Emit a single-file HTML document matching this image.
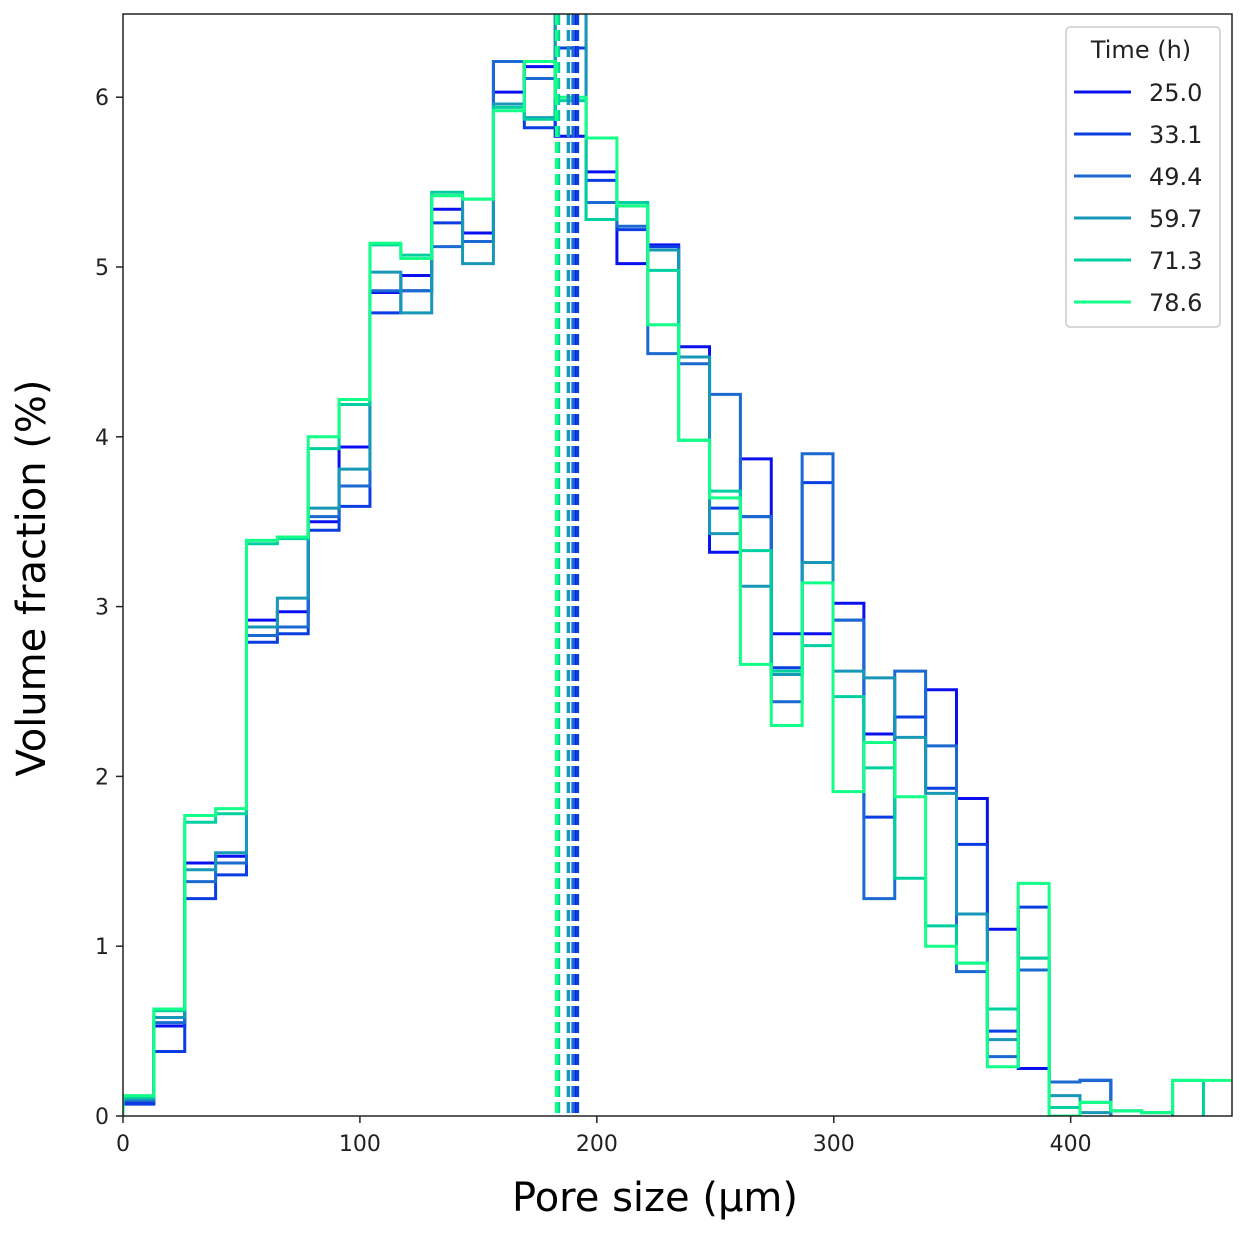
<!DOCTYPE html>
<html><head><meta charset="utf-8">
<style>
html,body{margin:0;padding:0;background:#fff;}
svg{display:block;font-family:"DejaVu Sans","Liberation Sans",sans-serif;}
</style></head>
<body>
<svg id="chart" width="1248" height="1234"></svg>
<script>
const seriesLabels=["25.0","33.1","49.4","59.7","71.3","78.6"];
const seriesColors=["#0a10f0","#0a3ee2","#1a6ad2","#1898b8","#00d0a0","#12ff88"];
const binWidth=13.03;
const s25=[0.08,0.53,1.49,1.53,2.92,2.97,3.50,3.94,4.85,4.95,5.34,5.20,6.03,6.18,5.77,5.56,5.02,5.13,4.53,3.32,3.87,2.84,2.84,3.02,2.25,2.35,2.51,1.87,1.10,0.28,0.20,0.21];
const s33=[0.07,0.38,1.28,1.42,2.79,2.84,3.45,3.59,4.73,4.86,5.26,5.15,6.21,5.82,6.29,5.51,5.22,5.12,4.47,3.58,3.53,2.64,3.73,2.92,1.76,2.35,1.93,1.60,0.50,1.23,0.20,0.21];
const s49=[0.09,0.55,1.38,1.49,2.83,2.88,3.53,3.71,4.86,4.86,5.12,5.15,6.21,6.11,6.70,5.38,5.24,4.49,4.43,4.25,3.53,2.44,3.90,2.92,1.28,2.62,2.18,0.85,0.35,0.86,0.20,0.21];
const s59=[0.10,0.58,1.45,1.55,2.88,3.05,3.58,3.81,4.97,4.73,5.42,5.02,5.96,5.88,6.80,5.28,5.36,5.10,4.47,3.43,3.12,2.60,3.26,2.62,2.58,2.23,1.90,1.19,0.45,0.93,0.12,0.02,0.03,0.02];
const s71=[0.11,0.62,1.73,1.78,3.37,3.40,3.93,4.19,5.13,5.07,5.44,5.40,5.94,5.87,5.98,5.28,5.38,4.98,3.98,3.68,3.33,2.62,2.77,2.47,2.05,1.40,1.12,0.90,0.63,0.93,0.05,0.08,0.03,0.02,0.21];
const s78=[0.12,0.63,1.77,1.81,3.39,3.41,4.00,4.22,5.14,5.05,5.42,5.40,5.92,6.21,6.00,5.76,5.36,4.66,3.98,3.64,2.66,2.30,3.14,1.91,2.20,1.88,1.00,0.90,0.29,1.37,0.00,0.08,0.03,0.02,0.21,0.21];
const seriesValues=[s25,s33,s49,s59,s71,s78];
const meanValues=[191.0,191.8,190.0,188.0,183.8,183.0];
const xTicks=[0,100,200,300,400];
const yTicks=[0,1,2,3,4,5,6];

const L=123,R=1232,T=14,B=1116;
const xMax=468.1,yMax=6.49;
const xs=v=>L+(v/xMax)*(R-L);
const ys=v=>B-(v/yMax)*(B-T);
const NS="http://www.w3.org/2000/svg";
const svg=document.getElementById("chart");
function mk(tag,attrs,parent){const e=document.createElementNS(NS,tag);for(const k in attrs)e.setAttribute(k,attrs[k]);(parent||svg).appendChild(e);return e;}

const defs=mk("defs",{});
const cp=mk("clipPath",{id:"plotclip"},defs);
mk("rect",{x:L,y:T,width:R-L,height:B-T},cp);

const plot=mk("g",{"clip-path":"url(#plotclip)"});



seriesValues.forEach((vals,i)=>{
  let d="M"+xs(0)+","+ys(0);
  vals.forEach((v,j)=>{
    d+=" L"+xs(j*binWidth)+","+ys(v)+" L"+xs((j+1)*binWidth)+","+ys(v);
  });
  d+=" L"+xs(vals.length*binWidth)+","+ys(0);
  const p=mk("path",{d:d,fill:"none",stroke:seriesColors[i],"stroke-width":3,"stroke-linejoin":"miter"},plot);
  
  
});
meanValues.forEach((m,i)=>{
  const l=mk("line",{x1:xs(m),x2:xs(m),y1:T,y2:B,stroke:seriesColors[i],"stroke-width":3.5,"stroke-dasharray":"11,5"},plot);
  
  
});

const frame=mk("rect",{x:L,y:T,width:R-L,height:B-T,fill:"none",stroke:"#222","stroke-width":1.5});



xTicks.forEach(t=>{
  const tk=mk("line",{x1:xs(t),x2:xs(t),y1:B,y2:B+7,stroke:"#222","stroke-width":1.5});
  
  
  const tx=mk("text",{x:xs(t),y:B+35,"text-anchor":"middle","font-size":22,fill:"#222"});
  tx.textContent=t;
  
  
});
yTicks.forEach(t=>{
  const tk=mk("line",{x1:L-7,x2:L,y1:ys(t),y2:ys(t),stroke:"#222","stroke-width":1.5});
  
  
  const tx=mk("text",{x:L-14,y:ys(t)+8,"text-anchor":"end","font-size":22,fill:"#222"});
  tx.textContent=t;
  
  
});

const xl=mk("text",{x:655,y:1211,"text-anchor":"middle","font-size":40,fill:"#000"});
xl.textContent="Pore size (µm)";


const yl=mk("text",{x:0,y:0,"text-anchor":"middle","font-size":40,fill:"#000",transform:"translate(45,578) rotate(-90)"});
yl.textContent="Volume fraction (%)";



const lg=mk("g",{});


mk("rect",{x:1066,y:27,width:154,height:300,rx:4,fill:"#fff","fill-opacity":0.85,stroke:"#ccc","stroke-width":1.5},lg);
const lt=mk("text",{x:1141,y:58,"text-anchor":"middle","font-size":24,fill:"#222"},lg);
lt.textContent="Time (h)";


seriesLabels.forEach((s,i)=>{
  const y=92+i*42;
  const g=mk("g",{},lg);
  
  
  mk("line",{x1:1074,x2:1131,y1:y,y2:y,stroke:seriesColors[i],"stroke-width":3},g);
  const t=mk("text",{x:1149,y:y+9,"font-size":24,fill:"#222"},g);
  t.textContent=s;
});
</script>
</body></html>
